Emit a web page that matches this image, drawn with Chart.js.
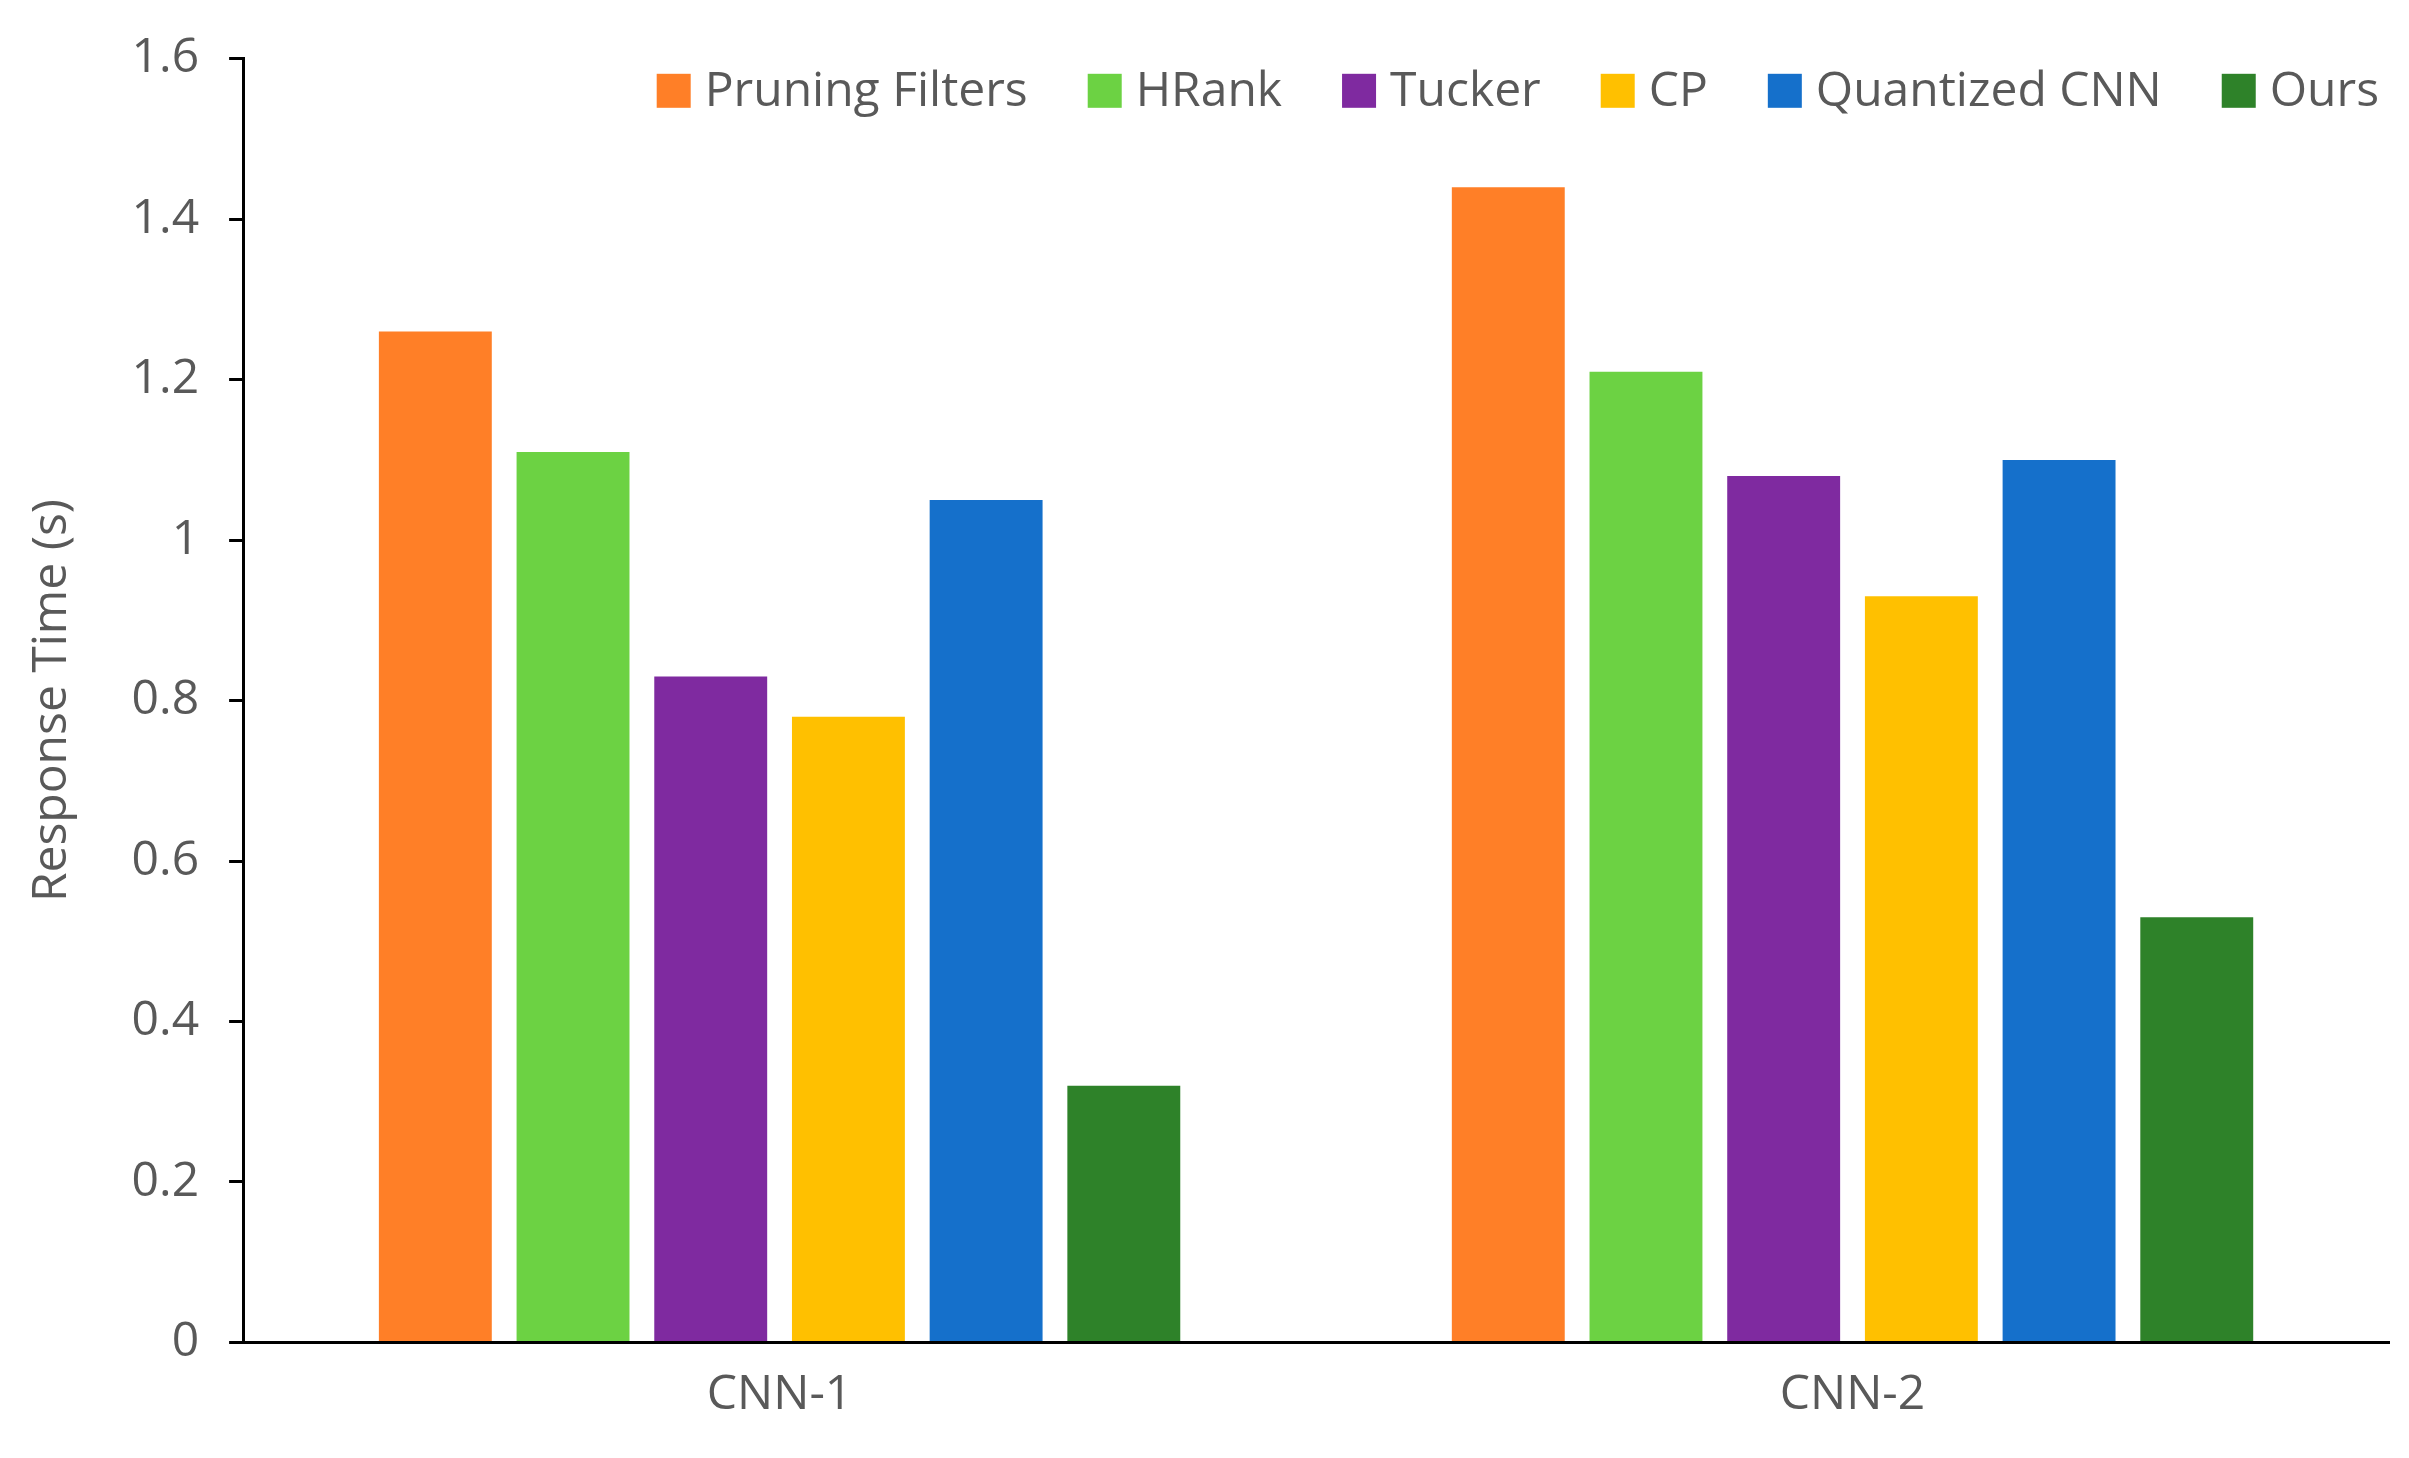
<!DOCTYPE html>
<html>
<head>
<meta charset="utf-8">
<script src="https://cdn.jsdelivr.net/npm/chart.js@4"></script>
<style>
  html, body { margin: 0; padding: 0; background: #fff; }
  #wrap { width: 2409px; height: 1458px; }
</style>
</head>
<body>
<div id="wrap"><canvas id="chart"></canvas></div>
<script>
const categories = ['CNN-1', 'CNN-2'];
const methods = ['Pruning Filters', 'HRank', 'Tucker', 'CP', 'Quantized CNN', 'Ours'];
const pruningFilters = [1.26, 1.44];
const hrank = [1.11, 1.21];
const tucker = [0.83, 1.08];
const cp = [0.78, 0.93];
const quantizedCnn = [1.05, 1.10];
const ours = [0.32, 0.53];
const yTicks = [0, 0.2, 0.4, 0.6, 0.8, 1, 1.2, 1.4, 1.6];

const series = [pruningFilters, hrank, tucker, cp, quantizedCnn, ours];
const colors = ['#FF7F27', '#6CD243', '#7F2AA0', '#FFC000', '#1570CB', '#2E8229'];

const font = { family: 'Open Sans', size: 48 };

// legend drawn inside the plot area, along the top edge, right aligned
const insideLegend = {
  id: 'insideLegend',
  afterDraw(chart) {
    const ctx = chart.ctx;
    const area = chart.chartArea;
    const box = 34, gap = 14, spacing = 60;
    ctx.save();
    ctx.font = font.size + 'px ' + font.family;
    ctx.textBaseline = 'middle';
    const widths = chart.data.datasets.map(d => box + gap + ctx.measureText(d.label).width);
    let x = area.right - widths.reduce((a, b) => a + b, 0) - spacing * (widths.length - 1) - 10;
    const y = area.top + 32;
    chart.data.datasets.forEach((d, i) => {
      ctx.fillStyle = d.backgroundColor;
      ctx.fillRect(x, y - box / 2, box, box);
      ctx.fillStyle = '#595959';
      ctx.fillText(d.label, x + box + gap, y + 2);
      x += widths[i] + spacing;
    });
    ctx.restore();
  }
};

new Chart(document.getElementById('chart'), {
  type: 'bar',
  data: {
    labels: categories,
    datasets: methods.map((m, i) => ({
      label: m,
      data: series[i],
      backgroundColor: colors[i],
      barPercentage: 0.82,
      categoryPercentage: 0.77
    }))
  },
  options: {
    responsive: true,
    maintainAspectRatio: false,
    animation: false,
    layout: { padding: { top: 30, right: 20, left: 20, bottom: 10 } },
    plugins: {
      tooltip: { enabled: false },
      legend: { display: false }
    },
    scales: {
      x: {
        grid: { display: false, drawTicks: false },
        border: { color: '#000', width: 3 },
        ticks: { font: font, color: '#595959', padding: 24 }
      },
      y: {
        min: 0,
        max: 1.6,
        afterBuildTicks: (axis) => { axis.ticks = yTicks.map(v => ({ value: v })); },
        grid: { display: true, drawOnChartArea: false, tickLength: 14, color: '#000', lineWidth: 3 },
        border: { color: '#000', width: 3 },
        ticks: { font: font, color: '#595959', padding: 30, callback: v => String(v) },
        title: { display: true, text: 'Response Time (s)', font: font, color: '#595959', padding: { bottom: 20 } }
      }
    }
  },
  plugins: [insideLegend]
});
</script>
</body>
</html>
